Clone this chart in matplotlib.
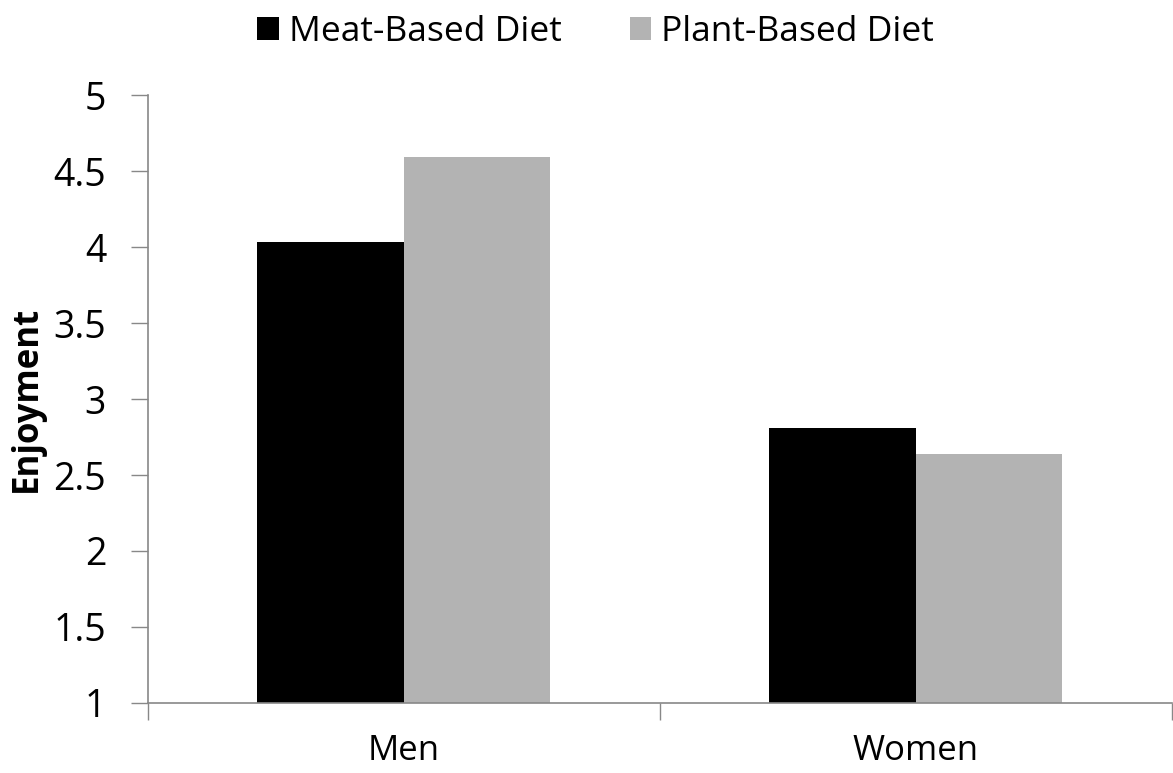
import numpy as np
import matplotlib.pyplot as plt

groups = ["Men", "Women"]
meat = [4.03, 2.81]
plant = [4.59, 2.64]

plt.rcParams['font.family'] = ['Open Sans', 'DejaVu Sans']

fig = plt.figure(figsize=(11.73, 7.73), dpi=100)
ax = fig.add_axes([0.126, 0.0906, 0.873, 0.7864])

x = np.arange(len(groups))
w = 0.286
ax.bar(x - w / 2, meat, w, color="black", label="Meat-Based Diet")
ax.bar(x + w / 2, plant, w, color="#b3b3b3", label="Plant-Based Diet")

ax.set_xlim(-0.5, 1.5)
ax.set_ylim(1, 5)
ax.set_yticks(np.arange(1, 5.01, 0.5))
ax.set_yticklabels(["1", "1.5", "2", "2.5", "3", "3.5", "4", "4.5", "5"])

# category boundary ticks on x, labels centred under the groups
ax.set_xticks([-0.5, 0.5, 1.5])
ax.set_xticklabels([])
ax.set_xticks(x, minor=True)
ax.set_xticklabels(groups, minor=True)
ax.tick_params(axis="x", which="minor", length=0, labelsize=25, pad=22)
ax.tick_params(axis="x", which="major", length=12, color="#888888", width=1)
ax.tick_params(axis="y", length=12, color="#888888", width=1, labelsize=27, pad=18)

for s in ["top", "right"]:
    ax.spines[s].set_visible(False)
for s in ["left", "bottom"]:
    ax.spines[s].set_color("#888888")
    ax.spines[s].set_linewidth(1.2)

ax.set_ylabel("Enjoyment", fontsize=25, fontweight="bold", labelpad=6)

fig.legend(loc="upper center", bbox_to_anchor=(0.508, 1.022), ncol=2, frameon=False,
           fontsize=25.5, handlelength=0.6, handleheight=0.6, handletextpad=0.3,
           columnspacing=1.9)

fig.savefig("out.png", dpi=100)
